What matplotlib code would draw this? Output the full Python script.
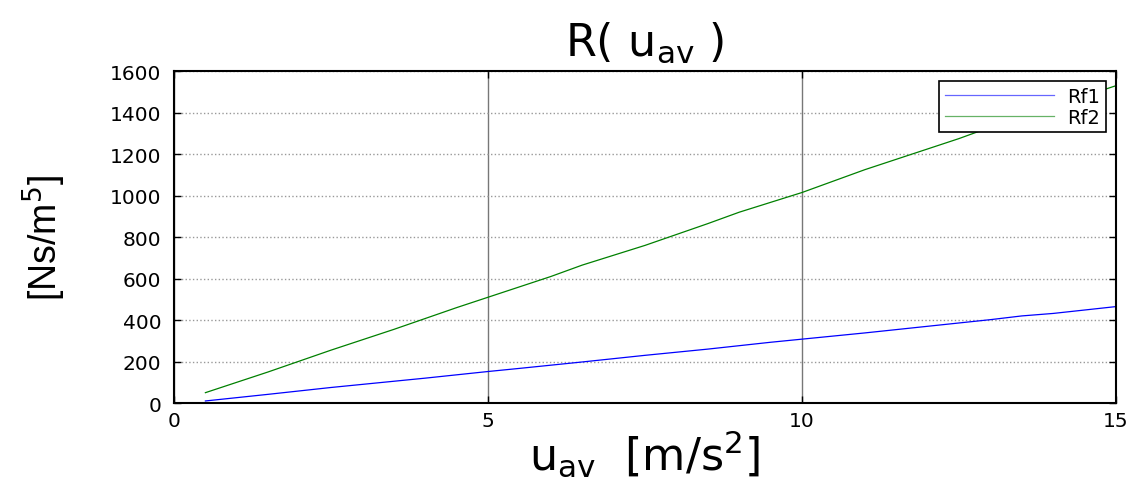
import matplotlib
matplotlib.use("Agg")
import matplotlib.pyplot as plt

# data
x_rf1 = [0.5, 1.5, 2.5, 3, 4, 5, 5.5, 6.5, 7.5, 8.5, 9.5, 10, 11, 12, 13, 13.5, 14, 15]
rf1 = [10, 42, 75, 90, 120, 152, 167, 198, 230, 260, 293, 308, 338, 370, 402, 420, 432, 465]
x_rf2 = [0.5, 1.5, 2.5, 3.5, 4.5, 5, 6, 6.5, 7.5, 8.5, 9, 10, 11, 12, 12.5, 13, 14, 15]
rf2 = [50, 150, 255, 355, 460, 510, 610, 665, 760, 865, 920, 1015, 1125, 1225, 1275, 1330, 1430, 1530]
x_ticks = [0, 5, 10, 15]
y_ticks = [0, 200, 400, 600, 800, 1000, 1200, 1400, 1600]

plt.rcParams['font.family'] = 'DejaVu Sans'
plt.rcParams['mathtext.fontset'] = 'dejavusans'

fig = plt.figure(figsize=(11.35, 4.81), dpi=100)
ax = fig.add_axes([0.1533, 0.160, 0.830, 0.690])

ax.plot(x_rf1, rf1, color='#0000ff', lw=0.9, label='Rf1')
ax.plot(x_rf2, rf2, color='#008000', lw=0.9, label='Rf2')

ax.set_xlim(0, 15)
ax.set_ylim(0, 1600)
ax.set_xticks(x_ticks)
ax.set_yticks(y_ticks)
ax.tick_params(direction='in', top=True, right=True, labelsize=14.5, length=5, width=1)
ax.tick_params(axis='y', pad=9)
ax.tick_params(axis='x', pad=6)
ax.grid(axis='y', color='#999999', linestyle=':', linewidth=1)
ax.grid(axis='x', color='#777777', linestyle='-', linewidth=1)
for s in ax.spines.values():
    s.set_linewidth(1.5)

ax.set_title(r'R( u$_{\mathrm{av}}$ )', fontsize=32, pad=12)
ax.set_xlabel(r'u$_{\mathrm{av}}$  [m/s$^{2}$]', fontsize=32, labelpad=-2)
ax.set_ylabel(r'[Ns/m$^{5}$]', fontsize=27, labelpad=30, family='Liberation Sans')

leg = ax.legend(loc='upper right', fontsize=14, fancybox=False, framealpha=1,
                edgecolor='black', handlelength=5.6, handletextpad=0.7,
                labelspacing=0.1, borderpad=0.3, borderaxespad=0.5)
leg.get_frame().set_linewidth(1.2)
for l in leg.get_lines():
    l.set_alpha(0.6)

fig.savefig('out.png', dpi=100)
